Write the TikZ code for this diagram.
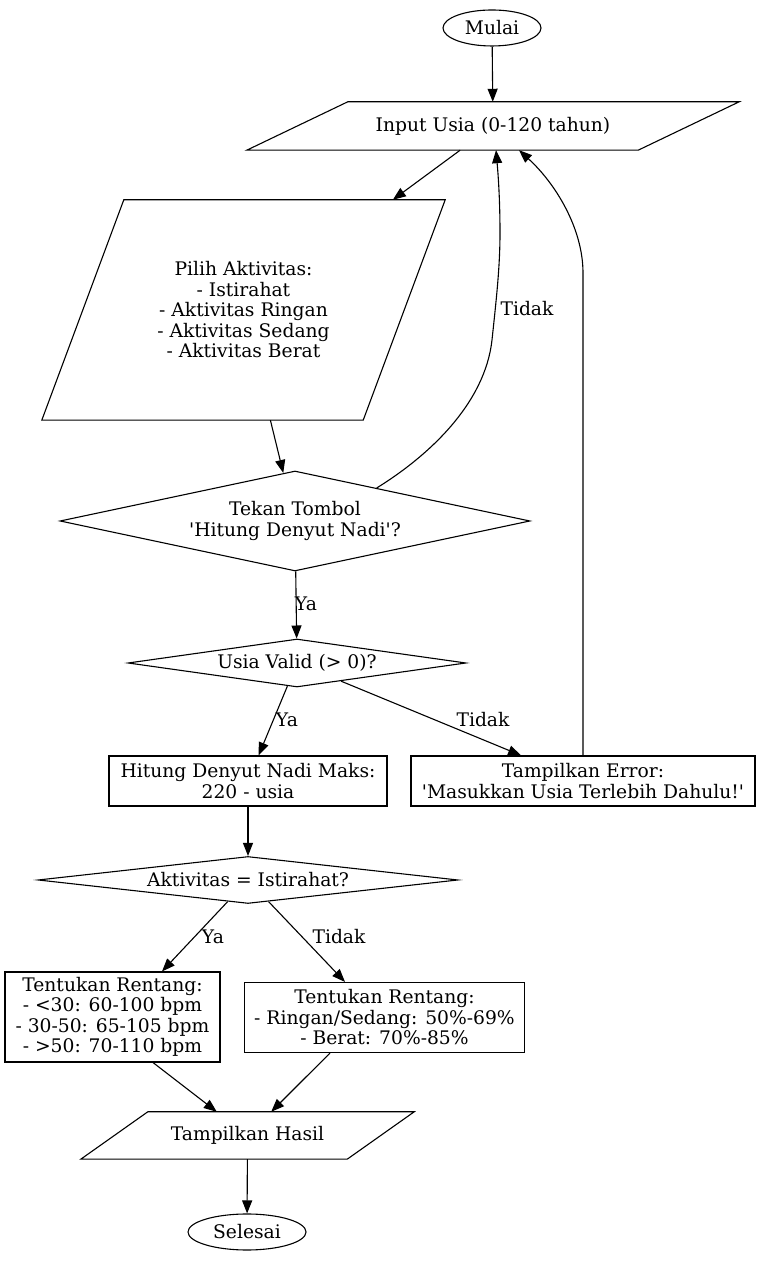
\documentclass[tikz,border=0pt]{standalone}
\usepackage{fontspec}
\setmainfont{DejaVu Serif}
\usetikzlibrary{shapes.geometric,arrows.meta,calc}
\newcommand\myq{\textquotesingle}
\begin{document}
\begin{tikzpicture}[x=1pt,y=1pt,
  txt/.style={font=\fontsize{18.7}{20.5}\selectfont,align=center},
  edge/.style={draw=black,line width=1.1pt,line join=miter},
  base/.style={txt,edge,inner sep=0pt},
  term/.style={base,ellipse},
  iobox/.style={txt,inner sep=0pt,rectangle},
  dec/.style={base,diamond},
  proc/.style={base,rectangle},
  conn/.style={line width=1.1pt,-{Triangle[length=13pt,width=10pt]}},
  lbl/.style={txt,inner sep=0pt}]
\useasboundingbox (0,0) rectangle (761,1263);

\node[term,minimum width=98pt,minimum height=36pt] (mulai) at (492,1235) {Mulai};
\node[iobox,minimum width=492pt,minimum height=48pt] (input) at (493,1137) {Input Usia (0-120 tahun)};
\node[iobox,minimum width=403pt,minimum height=220pt] (pilih) at (243.5,953) {Pilih Aktivitas:\\- Istirahat\\- Aktivitas Ringan\\- Aktivitas Sedang\\- Aktivitas Berat};
\node[dec,shape aspect=4.7,minimum width=470pt,minimum height=100pt] (tekan) at (295,742) {Tekan Tombol\\\myq Hitung Denyut Nadi\myq?};
\node[dec,shape aspect=7,minimum width=338pt,minimum height=48pt] (valid) at (297,600) {Usia Valid (> 0)?};
\node[proc,minimum width=278pt,minimum height=50pt] (hitung) at (248,482) {Hitung Denyut Nadi Maks:\\220 - usia};
\node[proc,minimum width=344pt,minimum height=50pt] (error) at (583,482) {Tampilkan Error:\\\myq Masukkan Usia Terlebih Dahulu!\myq};
\node[dec,shape aspect=8.9,minimum width=420pt,minimum height=47pt] (akt) at (248,383) {Aktivitas = Istirahat?};
\node[proc,minimum width=215pt,minimum height=90pt] (t1) at (112.5,246) {Tentukan Rentang:\\- <30: 60-100 bpm\\- 30-50: 65-105 bpm\\- >50: 70-110 bpm};
\node[proc,minimum width=280pt,minimum height=70pt] (t2) at (384.5,245.5) {Tentukan Rentang:\\- Ringan/Sedang: 50\%-69\%\\- Berat: 70\%-85\%};
\node[iobox,minimum width=333pt,minimum height=47pt] (hasil) at (247.5,127.5) {Tampilkan Hasil};
\node[term,minimum width=118pt,minimum height=36pt] (selesai) at (247,31) {Selesai};

% parallelogram outlines of the input/output nodes
\draw[edge] (input.south west) -- ($(input.south east)+(-101,0)$) -- (input.north east) -- ($(input.north west)+(101,0)$) -- cycle;
\draw[edge] (pilih.south west) -- ($(pilih.south east)+(-82,0)$) -- (pilih.north east) -- ($(pilih.north west)+(82,0)$) -- cycle;
\draw[edge] (hasil.south west) -- ($(hasil.south east)+(-67,0)$) -- (hasil.north east) -- ($(hasil.north west)+(67,0)$) -- cycle;

\node[lbl] (l1) at (306,659) {Ya};
\node[lbl] (l2) at (527,954) {Tidak};
\node[lbl] (l3) at (287,543) {Ya};
\node[lbl] (l4) at (483,543) {Tidak};
\node[lbl] (l5) at (213,326) {Ya};
\node[lbl] (l6) at (339,326) {Tidak};

\draw[conn] (mulai) -- (input);
\draw[conn] (input) -- (pilih);
\draw[conn] (pilih) -- (tekan);
\draw[conn] (tekan) -- (valid);
\draw[conn] (tekan.22.5) .. controls (430,808) and (485,860) .. (492,923) .. controls (496,961) and (500,995) .. (500,1030) .. controls (500,1065) and (498,1090) .. ($(input.south)+(3,0)$);
\draw[conn] (valid) -- (hitung);
\draw[conn] (valid) -- (error);
\draw[conn] (error.north) -- (583,990) .. controls (583,1035) and (555,1080) .. ($(input.south)+(26,0)$);
\draw[conn] (hitung) -- (akt);
\draw[conn] (akt) -- ($(t1.north)+(49.5,0)$);
\draw[conn] (akt) -- ($(t2.north)+(-39.5,0)$);
\draw[conn] ($(t1.south)+(40.5,0)$) -- (hasil);
\draw[conn] ($(t2.south)+(-54.5,0)$) -- (hasil);
\draw[conn] (hasil) -- (selesai);
\end{tikzpicture}
\end{document}
